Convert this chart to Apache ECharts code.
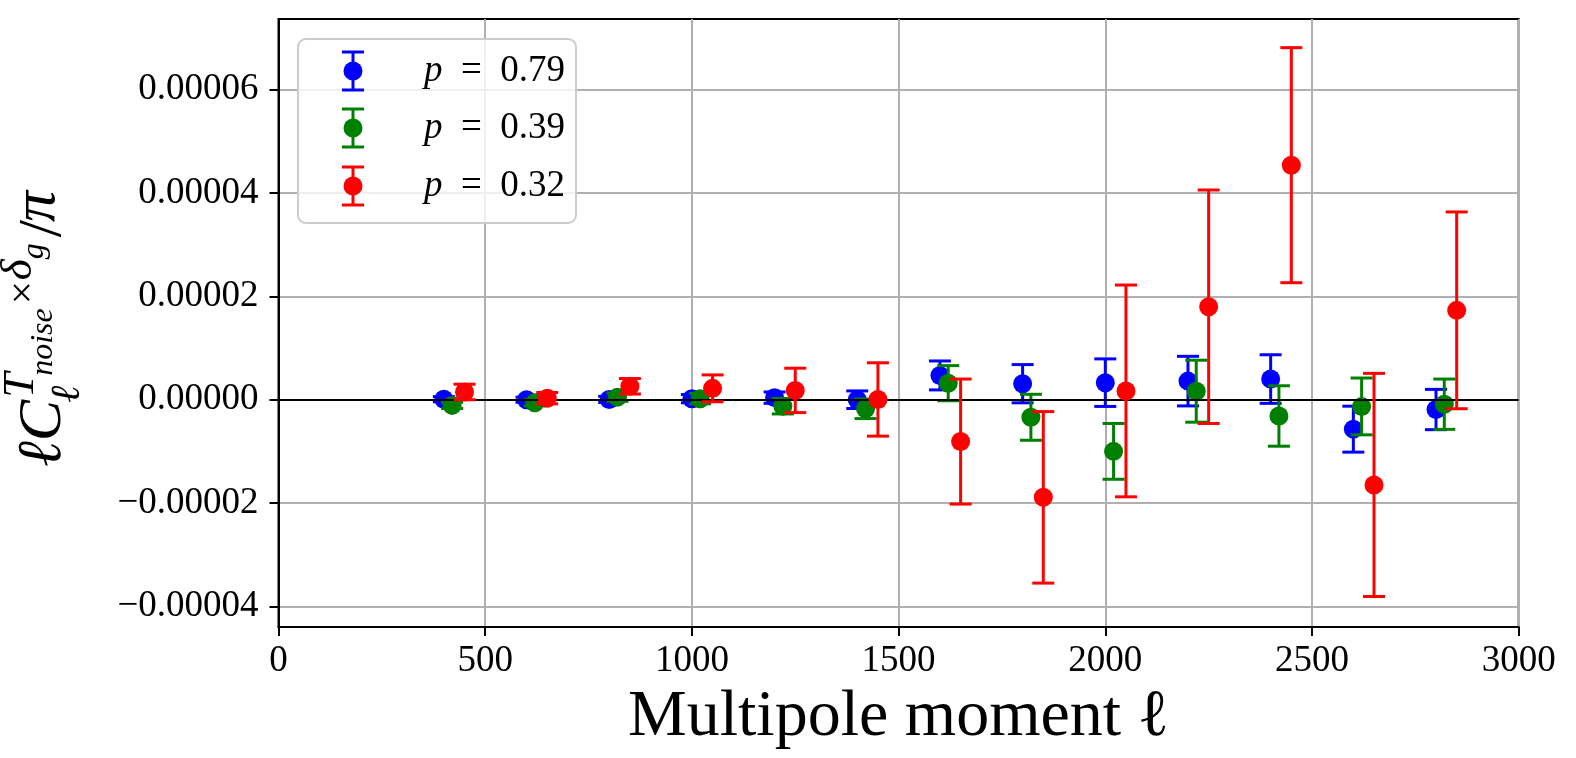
<!DOCTYPE html>
<html><head><meta charset="utf-8">
<script src="https://cdn.jsdelivr.net/npm/echarts@6/dist/echarts.min.js"></script>
<style>html,body{margin:0;padding:0;background:#fff}#c{width:1576px;height:758px}</style>
</head><body><div id="c"></div>
<script>
// ---------- data ----------
const seriesNames = ['p = 0.79', 'p = 0.39', 'p = 0.32'];
const seriesColors = ['#0000ff', '#008000', '#ff0000'];

const ell79 = [400, 600, 800, 1000, 1200, 1400, 1600, 1800, 2000, 2200, 2400, 2600, 2800];
const val79 = [0.1e-6, 0.0e-6, 0.05e-6, 0.2e-6, 0.4e-6, 0.0e-6, 4.7e-6, 3.1e-6, 3.3e-6, 3.6e-6, 4.0e-6, -5.7e-6, -1.9e-6];
const err79 = [0.5e-6, 0.5e-6, 0.6e-6, 0.8e-6, 1.1e-6, 1.7e-6, 2.8e-6, 3.7e-6, 4.6e-6, 4.8e-6, 4.7e-6, 4.45e-6, 3.9e-6];

const ell39 = [420, 620, 820, 1020, 1220, 1420, 1620, 1820, 2020, 2220, 2420, 2620, 2820];
const val39 = [-1.1e-6, -0.6e-6, 0.5e-6, 0.2e-6, -1.25e-6, -1.75e-6, 3.2e-6, -3.4e-6, -10.0e-6, 1.65e-6, -3.15e-6, -1.3e-6, -0.87e-6];
const err39 = [0.6e-6, 0.6e-6, 0.8e-6, 1.0e-6, 1.5e-6, 1.9e-6, 3.4e-6, 4.45e-6, 5.4e-6, 6.0e-6, 5.85e-6, 5.5e-6, 4.87e-6];

const ell32 = [450, 650, 850, 1050, 1250, 1450, 1650, 1850, 2050, 2250, 2450, 2650, 2850];
const val32 = [1.5e-6, 0.3e-6, 2.6e-6, 2.2e-6, 1.8e-6, 0.05e-6, -8.1e-6, -18.9e-6, 1.7e-6, 18.0e-6, 45.4e-6, -16.5e-6, 17.3e-6];
const err32 = [1.5e-6, 1.1e-6, 1.5e-6, 2.6e-6, 4.3e-6, 7.1e-6, 12.1e-6, 16.6e-6, 20.5e-6, 22.6e-6, 22.75e-6, 21.6e-6, 19.05e-6];

const xTickInterval = 500;
const yTickValues = [-4e-5, -2e-5, 0, 2e-5, 4e-5, 6e-5];
const xTitle = 'Multipole moment ℓ';

// ---------- build ----------
const SERIF = '"Liberation Serif", "DejaVu Serif", serif';
const ells = [ell79, ell39, ell32], vals = [val79, val39, val32], errs = [err79, err39, err32];

function renderErr(color) {
  return function (params, api) {
    const x = api.value(0), y = api.value(1), e = api.value(2);
    const c = api.coord([x, y]);
    const t = api.coord([x, y + e]);
    const b = api.coord([x, y - e]);
    const cw = 11;
    const ls = { stroke: color, lineWidth: 3 };
    return { type: 'group', children: [
      { type: 'line', shape: { x1: c[0], y1: t[1], x2: c[0], y2: b[1] }, style: ls },
      { type: 'line', shape: { x1: c[0] - cw, y1: t[1], x2: c[0] + cw, y2: t[1] }, style: ls },
      { type: 'line', shape: { x1: c[0] - cw, y1: b[1], x2: c[0] + cw, y2: b[1] }, style: ls },
      { type: 'circle', shape: { cx: c[0], cy: c[1], r: 9.5 }, style: { fill: color } }
    ]};
  };
}

const series = [{
  type: 'line', data: [], z: 1, silent: true,
  markLine: { silent: true, symbol: 'none', label: { show: false },
    lineStyle: { color: '#000', width: 2, type: 'solid' }, data: [{ yAxis: 0 }], animation: false }
}];
for (let k = 0; k < 3; k++) {
  series.push({
    type: 'custom', name: seriesNames[k], z: 3 + k,
    renderItem: renderErr(seriesColors[k]),
    encode: { x: 0, y: 1 },
    data: ells[k].map((x, i) => [x, vals[k][i], errs[k][i]])
  });
}

// text measurement for the y-axis title layout
const mctx = document.createElement('canvas').getContext('2d');
function tw(txt, size, ital) { mctx.font = (ital ? 'italic ' : '') + size + 'px ' + SERIF; return mctx.measureText(txt).width; }

const M = 62, S = 45, SS = 32;
const parts = [];
let cx = 0;
parts.push({ t: 'ℓC', s: M, i: true, x: cx, base: 0 });
cx += tw('ℓC', M, true);
const supStart = cx + 2;
parts.push({ t: 'ℓ', s: S - 4, i: true, x: cx - 3, base: 17 });
let sx = supStart;
parts.push({ t: 'T', s: S, i: true, x: sx, base: -29 }); sx += tw('T', S, true) - 3;
parts.push({ t: 'noise', s: SS, i: true, x: sx, base: -11 }); sx += tw('noise', SS, true) + 4;
parts.push({ t: '×', s: S - 4, i: false, x: sx, base: -27 }); sx += tw('×', S - 4, false) + 1;
parts.push({ t: 'δ', s: S, i: true, x: sx, base: -31 }); sx += tw('δ', S, true);
parts.push({ t: 'g', s: SS, i: true, x: sx, base: -20 }); sx += tw('g', SS, true) + 6;
parts.push({ t: '/', s: M, i: false, x: sx, base: 0 }); sx += tw('/', M, false) - 2;
parts.push({ t: 'π', s: M, i: true, x: sx, base: -6 }); sx += tw('π', M, true);
const totalLen = sx;
const plotTop = 19, plotBottom = 627;
const centerY = (plotTop + plotBottom) / 2 + 6;
const MID2BASE = 0.34;   // offset from 'middle' anchor to alphabetic baseline (em fraction)
const yTitle = {
  type: 'group', x: 65, y: centerY + totalLen / 2, rotation: Math.PI / 2,
  children: parts.map(p => ({
    type: 'text', x: p.x, y: p.base - MID2BASE * p.s,
    style: { text: p.t, fontSize: p.s, fontFamily: SERIF, fontStyle: p.i ? 'italic' : 'normal',
      fill: '#000', align: 'left', verticalAlign: 'middle' }
  }))
};

// legend drawn as graphic
const legRows = [71, 128, 186];
const legendEls = [{
  type: 'rect', shape: { x: 298, y: 39, width: 278, height: 184, r: 8 },
  style: { fill: 'rgba(255,255,255,0.8)', stroke: '#cccccc', lineWidth: 2 }, z: 100
}];
seriesNames.forEach((n, k) => {
  const y = legRows[k], x = 353, col = seriesColors[k];
  const ls = { stroke: col, lineWidth: 3 };
  legendEls.push(
    { type: 'line', shape: { x1: x, y1: y - 19, x2: x, y2: y + 19 }, style: ls, z: 101 },
    { type: 'line', shape: { x1: x - 11, y1: y - 19, x2: x + 11, y2: y - 19 }, style: ls, z: 101 },
    { type: 'line', shape: { x1: x - 11, y1: y + 19, x2: x + 11, y2: y + 19 }, style: ls, z: 101 },
    { type: 'circle', shape: { cx: x, cy: y, r: 9.5 }, style: { fill: col }, z: 102 },
    { type: 'text', x: 424, y: y, z: 102,
      style: { text: '{i|' + n.slice(0, 1) + '}' + n.slice(1).replace(/ /g, '\u2002'),
        fontSize: 37, fontFamily: SERIF, fill: '#000', verticalAlign: 'middle',
        rich: { i: { fontStyle: 'italic', fontSize: 37, fontFamily: SERIF } } } }
  );
});

function fmtY(v) {
  if (Math.abs(v) < 1e-12) return '0.00000';
  return (v < 0 ? '\u2212' : '') + Math.abs(v).toFixed(5);
}

const chart = echarts.init(document.getElementById('c'), null, { renderer: 'canvas' });
chart.setOption({
  animation: false,
  backgroundColor: '#fff',
  grid: { left: 278.5, right: 57.3, top: plotTop, bottom: 758 - plotBottom, show: true,
    borderColor: '#000', borderWidth: 2, backgroundColor: 'transparent' },
  xAxis: {
    type: 'value', min: 0, max: 3000, interval: xTickInterval,
    name: xTitle, nameLocation: 'middle', nameGap: 52,
    nameTextStyle: { fontSize: 66, fontFamily: SERIF, color: '#000' },
    axisLine: { show: true, onZero: false, lineStyle: { color: '#000', width: 2 } },
    axisTick: { show: true, inside: false, length: 9, lineStyle: { color: '#000', width: 2 } },
    axisLabel: { fontSize: 37, fontFamily: SERIF, color: '#000', margin: 16, formatter: v => String(v) },
    splitLine: { show: true, lineStyle: { color: '#b0b0b0', width: 2 } }
  },
  yAxis: {
    type: 'value', min: -4.4e-5, max: 7.37e-5,
    axisLine: { show: true, onZero: false, lineStyle: { color: '#000', width: 2 } },
    axisTick: { show: true, inside: false, length: 9, customValues: yTickValues, lineStyle: { color: '#000', width: 2 } },
    axisLabel: { fontSize: 37, fontFamily: SERIF, color: '#000', margin: 20, customValues: yTickValues, formatter: fmtY },
    splitLine: { show: true, lineStyle: { color: '#b0b0b0', width: 2 } }
  },
  graphic: [yTitle].concat(legendEls),
  series: series
});
</script>
</body></html>
